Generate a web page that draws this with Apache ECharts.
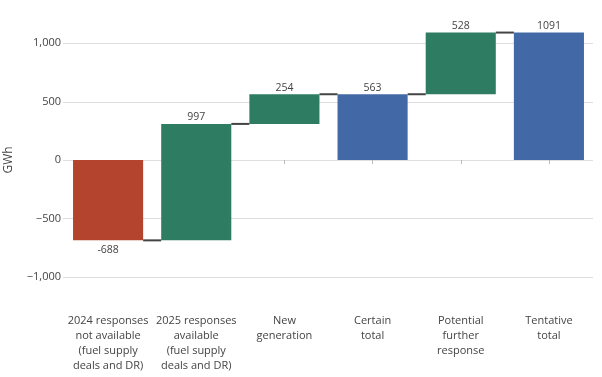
<!DOCTYPE html>
<html>
<head>
<meta charset="utf-8">
<script src="https://cdn.jsdelivr.net/npm/echarts@6/dist/echarts.min.js"></script>
<style>
  html, body { margin: 0; padding: 0; background: #fff; }
  #chart { width: 602px; height: 377px; }
</style>
</head>
<body>
<div id="chart"></div>
<script>
// categories and waterfall steps
const categories = [
  "2024 responses\nnot available\n(fuel supply\ndeals and DR)",
  "2025 responses\navailable\n(fuel supply\ndeals and DR)",
  "New\ngeneration",
  "Certain\ntotal",
  "Potential\nfurther\nresponse",
  "Tentative\ntotal"
];
const stepValues = [-688, 997, 254, 563, 528, 1091];
const stepKinds = ["relative", "relative", "relative", "total", "relative", "total"];
const gridValues = [-1000, -500, 0, 500, 1000];

const colors = { up: "#2e7d62", down: "#b5442f", total: "#4268a6" };

// work out where each bar starts and ends
let running = 0;
const bases = [];
const ends = [];
stepValues.forEach((v, i) => {
  if (stepKinds[i] === "total") {
    bases.push(0);
    running = v;
  } else {
    bases.push(running);
    running += v;
  }
  ends.push(running);
});

const barData = stepValues.map((v, i) => {
  let c = stepKinds[i] === "total" ? colors.total : (v < 0 ? colors.down : colors.up);
  return {
    value: v,
    itemStyle: { color: c },
    label: { position: v < 0 ? "bottom" : "top", distance: v < 0 ? 4 : 1 }
  };
});

// connectors: from end of bar i to start of bar i+1
const connectorData = ends.slice(0, -1).map((lvl, i) => [i, lvl]);

const BAR_FRAC = 0.795;
const font = "'Open Sans', 'DejaVu Sans', sans-serif";

let chart = echarts.init(document.getElementById("chart"));
let option = {
  animation: false,
  backgroundColor: "#fff",
  textStyle: { fontFamily: font },
  grid: { left: 64, right: 9, top: 14, bottom: 71, outerBoundsMode: "none", containLabel: false },
  xAxis: {
    type: "category",
    data: categories,
    offset: 6,
    axisLine: { show: false },
    axisTick: { show: true, alignWithLabel: true, length: 4, lineStyle: { color: "#bbb" } },
    axisLabel: {
      color: "#444",
      fontSize: 11,
      lineHeight: 14.7,
      margin: 2,
      interval: 0,
      fontFamily: font
    }
  },
  yAxis: {
    type: "value",
    name: "GWh",
    nameLocation: "middle",
    nameGap: 49,
    nameTextStyle: { color: "#444", fontSize: 12, fontFamily: font },
    min: -1250,
    max: 1250,
    interval: 250,
    splitLine: { show: false },
    axisLine: { show: false },
    axisTick: { show: false },
    axisLabel: {
      color: "#444",
      fontSize: 11,
      margin: 3,
      fontFamily: font,
      formatter: function (v) {
        if (v % 500 !== 0) return "";
        let s = Math.abs(v).toLocaleString("en-US");
        return v < 0 ? "\u2212" + s : s;
      }
    }
  },
  series: [
    {
      // gridlines, drawn under the bars
      type: "custom",
      z: 0,
      silent: true,
      data: gridValues.map(v => [0, v]),
      renderItem: function (params, api) {
        let cs = params.coordSys;
        let y = Math.round(api.coord([0, api.value(1)])[1]) + 0.5;
        return {
          type: "line",
          shape: { x1: cs.x - 1, y1: y, x2: cs.x + cs.width, y2: y },
          style: { stroke: "#dedede", lineWidth: 1 }
        };
      }
    },
    {
      name: "base",
      type: "bar",
      stack: "wf",
      stackStrategy: "all",
      barWidth: (BAR_FRAC * 100) + "%",
      itemStyle: { color: "transparent" },
      silent: true,
      z: 2,
      data: bases
    },
    {
      name: "value",
      type: "bar",
      stack: "wf",
      stackStrategy: "all",
      barWidth: (BAR_FRAC * 100) + "%",
      z: 2,
      label: {
        show: true,
        color: "#444",
        fontSize: 10.5,
        fontFamily: font,
        formatter: p => String(p.value)
      },
      data: barData
    },
    {
      type: "custom",
      z: 5,
      silent: true,
      data: connectorData,
      renderItem: function (params, api) {
        let i = api.value(0);
        let lvl = api.value(1);
        let a = api.coord([i, lvl]);
        let b = api.coord([i + 1, lvl]);
        let half = api.size([1, 0])[0] * BAR_FRAC / 2;
        return {
          type: "line",
          shape: { x1: a[0] + half, y1: a[1], x2: b[0] - half, y2: b[1] },
          style: { stroke: "#444", lineWidth: 2 }
        };
      }
    }
  ]
};
chart.setOption(option);
</script>
</body>
</html>
